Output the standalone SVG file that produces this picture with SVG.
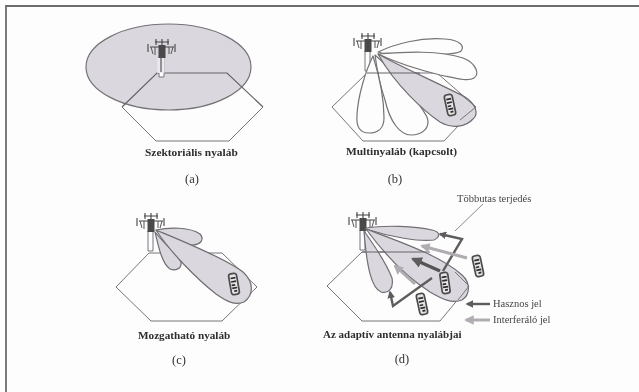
<svg xmlns="http://www.w3.org/2000/svg" width="639" height="392" viewBox="0 0 639 392">
<style>
.hex{fill:none;stroke:#77757a;stroke-width:1}
.hexd{fill:none;stroke:#666468;stroke-width:1.2}
.lobe{fill:#fdfdfd;stroke:#757377;stroke-width:1.2;stroke-linejoin:round}
.sh{fill:#dbd7de;stroke:#706e72;stroke-width:1.2;stroke-linejoin:round}
.cap{font-family:"Liberation Serif",serif;font-weight:bold;font-size:11.4px;fill:#2e2e2e}
.sub{font-family:"Liberation Serif",serif;font-size:12.5px;fill:#333;text-anchor:middle}
.note{font-family:"Liberation Serif",serif;font-size:10.5px;fill:#444}
.dark{fill:none;stroke:#5f5c5c;stroke-width:2.4;stroke-linejoin:miter}
.darkb{fill:none;stroke:#555252;stroke-width:3.4}
.grey{fill:none;stroke:#b0acb1;stroke-width:3}
</style>
<defs>
<filter id="b" x="-5%" y="-5%" width="110%" height="110%"><feGaussianBlur stdDeviation="0.5"/></filter>
<marker id="ad" viewBox="0 0 10 10" refX="8" refY="5" markerWidth="3.2" markerHeight="3.2" orient="auto"><path d="M0 0L10 5L0 10z" fill="#5f5c5c"/></marker>
<marker id="ag" viewBox="0 0 10 10" refX="8" refY="5" markerWidth="3.2" markerHeight="3.2" orient="auto"><path d="M0 0L10 5L0 10z" fill="#b0acb1"/></marker>
<g id="tower">
<path d="M-2 18V38H3V18" fill="#fdfdfd" stroke="#77757a" stroke-width="1"/>
<path d="M-11 8H13M-6 3H8M-5 0V6M7 0V6M1 0V6M-13 5V13M14 5V13" fill="none" stroke="#444" stroke-width="1.1"/>
<path d="M-10 8L-8 15M12 8L10 15M-6 8V16M8 8V15" fill="none" stroke="#555" stroke-width="1"/>
<rect x="-2.500" y="6" width="7" height="13" fill="#4a4a4a"/>
</g>
<g id="phone">
<rect x="-4" y="-10.500" width="8" height="21" rx="2.500" fill="#e6e4e6" stroke="#4c4c4c" stroke-width="1.700"/>
<path d="M-2.500 -6H2.500M-2.500 -2.500H2.500M-2.500 1H1M-2.500 4H2.500M-1 7H2" stroke="#2e2e2e" stroke-width="1.700"/>
</g>
</defs>
<rect width="639" height="392" fill="#fdfdfd"/>
<g filter="url(#b)">
<g id="frame"><path d="M639 6H6V392" fill="none" stroke="#6e6c6e" stroke-width="1.800"/></g>
<g id="panel-a">
<ellipse cx="168.500" cy="67" rx="82.500" ry="43" fill="#dbd7de" stroke="#757377" stroke-width="1.200"/>
<path class="hexd" d="M122 107L157 73H227L263 107"/>
<path class="hex" d="M122 107L156 141H229L263 107"/>
<use href="#tower" x="161" y="39"/>
<rect x="157.500" y="58" width="7" height="15" fill="#ece9ee"/>
<path d="M161 56V72" stroke="#555" stroke-width="1.200"/>
<text class="cap" x="145" y="156">Szektoriális nyaláb</text>
<text class="sub" x="192" y="183">(a)</text>
</g>
<g id="panel-b">
<path class="hex" d="M332 107L367 73H437L476 107L444 141H363Z"/>
<use href="#tower" x="367" y="33"/>
<path class="lobe" d="M378 52C395 44 420 37 445 39C460 40 465 46 461 51C456 56 420 55 382 53Z"/>
<path class="lobe" d="M378 54C405 52 440 50 463 58C476 63 480 74 474 78C468 82 455 78 440 75C420 70 395 62 378 54Z"/>
<path class="lobe" d="M375 55C392 70 418 100 427 117C431 128 422 135 411 135C400 135 390 122 385 100C380 85 377 70 375 55Z"/>
<path class="lobe" d="M373 56C379 75 384 100 384 118C384 128 378 133 369 133C360 133 356 127 357 115C358 95 366 70 373 56Z"/>
<path class="sh" d="M378 54C395 64 440 84 465 97C476 104 479 114 473 119C466 127 452 129 440 122C425 112 395 85 378 54Z"/>
<path class="hexd" d="M367 73H420"/>
<path class="hex" d="M459 93L476 107L460 120"/>
<use href="#phone" transform="translate(450 105) rotate(-12)"/>
<text class="cap" x="346" y="155">Multinyaláb (kapcsolt)</text>
<text class="sub" x="395" y="183">(b)</text>
</g>
<g id="panel-c">
<path class="hex" d="M116 287L149 253H222L257 287L222 321H151Z"/>
<use href="#tower" x="150" y="213"/>
<path class="sh" d="M156 230C170 227 190 227 200 234C205 240 200 245 192 245C180 244 165 236 156 230Z"/>
<path class="sh" d="M155 232C165 245 178 255 181 262C182 269 175 271 170 269C162 264 158 245 155 232Z"/>
<path class="sh" d="M156 230C180 240 225 258 243 272C254 282 254 295 244 302C235 306 226 301 216 294C198 280 170 252 156 230Z"/>
<use href="#phone" transform="translate(234 284) rotate(-10)"/>
<text class="cap" x="138" y="339" style="font-size:11.200px">Mozgatható nyaláb</text>
<text class="sub" x="179" y="364">(c)</text>
</g>
<g id="panel-d">
<path class="hex" d="M327 286L362 252H420M469 286L440 321H362L327 286"/>
<use href="#tower" x="362" y="212"/>
<path class="sh" d="M366 228C385 225 415 226 432 230C441 232 440 237 434 240C420 242 390 237 366 229Z"/>
<path class="sh" d="M364 231C374 245 387 265 392 278C394 289 388 294 381 292C372 288 367 270 364 231Z"/>
<path class="sh" d="M366 229C395 240 440 255 462 275C471 283 470 295 462 300C452 304 442 299 430 292C408 278 385 255 366 229Z"/>
<path class="hexd" d="M362 252H430"/>
<path class="hex" d="M455 272L469 286L458 300"/>
<g id="connectors">
<path class="dark" marker-end="url(#ad)" d="M432 278L393 306L390 292"/>
<path class="dark" marker-end="url(#ad)" d="M443 271L462 239L440 234"/>
<path class="darkb" marker-end="url(#ad)" d="M440 271L413 259"/>
<path class="grey" marker-end="url(#ag)" d="M467 258L422 246"/>
<path class="grey" marker-end="url(#ag)" d="M415 284L395 266"/>
<path class="dark" marker-end="url(#ad)" d="M490 304H467"/>
<path class="grey" marker-end="url(#ag)" d="M490 320H466"/>
<path d="M483 204L455 231" stroke="#8a888a" stroke-width="1" fill="none"/>
</g>
<use href="#phone" transform="translate(478 266) rotate(-12)"/>
<use href="#phone" transform="translate(445 283) rotate(-8)"/>
<use href="#phone" transform="translate(422 304) rotate(-12)"/>
<text class="note" x="457" y="202">Többutas terjedés</text>
<text class="note" x="493" y="307">Hasznos jel</text>
<text class="note" x="493" y="323">Interferáló jel</text>
<text class="cap" x="323" y="338" style="font-size:11px">Az adaptív antenna nyalábjai</text>
<text class="sub" x="402" y="363">(d)</text>
</g>
</g>
</svg>
